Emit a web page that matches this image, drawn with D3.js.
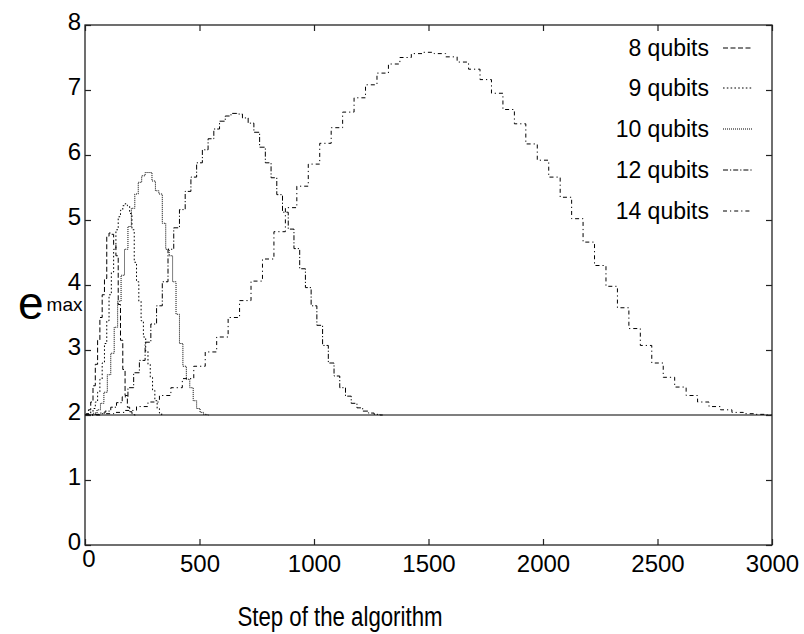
<!DOCTYPE html>
<html>
<head>
<meta charset="utf-8">
<script src="https://cdn.jsdelivr.net/npm/d3@7"></script>
<style>
  html, body { margin: 0; padding: 0; background: #fff; }
  svg { display: block; }
  text { font-family: "Liberation Sans", Arial, Helvetica, sans-serif; fill: #000; }
</style>
</head>
<body>
<svg id="chart" width="804" height="634"></svg>
<script>
// ---------------- data ----------------
const xTicks = [0, 500, 1000, 1500, 2000, 2500, 3000];
const yTicks = [0, 1, 2, 3, 4, 5, 6, 7, 8];
const seriesNames = ["8 qubits", "9 qubits", "10 qubits", "12 qubits", "14 qubits"];
const baseValue = 2;

const steps8 = [0,10,20,30,40,50,60,70,80,90,100,110,120,130,140,150,160,170,180,190,200,210,220];
const emax8  = [2.00,2.02,2.08,2.20,2.45,2.78,3.15,3.50,3.85,4.10,4.75,4.80,4.78,4.62,4.45,3.70,3.15,2.70,2.30,2.12,2.05,2.02,2.00];

const steps9 = [0,10,20,30,40,50,60,70,80,90,100,110,120,130,140,150,160,170,180,190,200,210,220,230,240,250,260,270,280,290,300,310,320,330,340];
const emax9  = [2.00,2.00,2.02,2.05,2.10,2.20,2.35,2.55,2.80,3.10,3.45,3.85,4.20,4.55,4.85,5.05,5.15,5.22,5.25,5.22,5.10,4.85,4.35,4.05,3.75,3.45,3.20,2.98,2.78,2.58,2.38,2.22,2.10,2.03,2.00];

const steps10 = [0,15,30,45,60,75,90,105,120,135,150,165,180,195,210,225,240,255,270,285,300,315,330,345,360,375,390,405,420,435,450,465,480,495,510,525,540];
const emax10  = [2.00,2.00,2.01,2.03,2.08,2.18,2.35,2.62,2.95,3.35,3.75,4.15,4.55,4.90,5.18,5.40,5.58,5.68,5.73,5.73,5.60,5.45,5.40,4.95,4.55,4.45,4.05,3.55,3.10,2.75,2.55,2.42,2.22,2.10,2.04,2.01,2.00];

const steps12 = [0,25,50,75,100,125,150,175,200,225,250,275,300,325,350,375,400,425,450,475,500,525,550,575,600,625,650,675,700,725,750,775,800,825,850,875,900,925,950,975,1000,1025,1050,1075,1100,1125,1150,1175,1200,1225,1250,1275,1300];
const emax12  = [2.00,2.00,2.01,2.03,2.06,2.12,2.19,2.28,2.42,2.65,2.84,3.12,3.40,3.68,4.05,4.55,4.88,5.16,5.44,5.66,5.88,6.08,6.25,6.40,6.52,6.60,6.64,6.63,6.57,6.49,6.35,6.12,5.88,5.65,5.39,5.12,4.86,4.56,4.25,3.96,3.68,3.38,3.07,2.80,2.60,2.42,2.29,2.18,2.11,2.06,2.03,2.01,2.00];

const steps14 = [0,50,100,150,200,250,300,350,400,450,500,550,600,650,700,750,800,850,900,950,1000,1050,1100,1150,1200,1250,1300,1350,1400,1450,1500,1550,1600,1650,1700,1750,1800,1850,1900,1950,2000,2050,2100,2150,2200,2250,2300,2350,2400,2450,2500,2550,2600,2650,2700,2750,2800,2850,2900,2950,3000];
const emax14  = [2.00,2.00,2.02,2.04,2.07,2.13,2.20,2.30,2.42,2.56,2.75,2.97,3.20,3.50,3.76,4.06,4.40,4.82,5.19,5.52,5.86,6.18,6.42,6.66,6.88,7.08,7.26,7.40,7.50,7.56,7.58,7.56,7.51,7.43,7.32,7.16,6.95,6.70,6.48,6.17,5.92,5.66,5.35,5.02,4.66,4.30,3.98,3.65,3.33,3.07,2.80,2.58,2.43,2.30,2.20,2.13,2.08,2.04,2.02,2.01,2.00];

// ---------------- styling ----------------
const dashes = ["5,2.5", "1.6,2.2", "1,1", "5,2,1.2,2", "4,3,1.2,3"];

const svg = d3.select("#chart");
const mLeft = 85, mRight = 772, mTop = 25, mBottom = 545;

const x = d3.scaleLinear().domain([0, 3000]).range([mLeft, mRight]);
const y = d3.scaleLinear().domain([0, 8]).range([mBottom, mTop]);

const series = [
  {name: seriesNames[0], xs: steps8,  ys: emax8},
  {name: seriesNames[1], xs: steps9,  ys: emax9},
  {name: seriesNames[2], xs: steps10, ys: emax10},
  {name: seriesNames[3], xs: steps12, ys: emax12},
  {name: seriesNames[4], xs: steps14, ys: emax14}
];

// baseline at emax = 2
svg.append("line")
  .attr("x1", x(0)).attr("x2", x(3000))
  .attr("y1", y(baseValue)).attr("y2", y(baseValue))
  .attr("stroke", "#000").attr("stroke-width", 1.2);

const line = d3.line()
  .x(d => x(d[0])).y(d => y(d[1]))
  .curve(d3.curveStep);

series.forEach((s, i) => {
  const pts = s.xs.map((v, k) => [v, s.ys[k]]);
  svg.append("path")
    .attr("d", line(pts))
    .attr("fill", "none")
    .attr("stroke", "#000")
    .attr("stroke-width", 1)
    .attr("stroke-dasharray", dashes[i]);
});

// frame
svg.append("rect")
  .attr("x", mLeft).attr("y", mTop)
  .attr("width", mRight - mLeft).attr("height", mBottom - mTop)
  .attr("fill", "none").attr("stroke", "#222").attr("stroke-width", 1.3);

// axes with inward ticks
const fs = 24;
const gx = svg.append("g").attr("transform", `translate(0,${mBottom})`)
  .call(d3.axisBottom(x).tickValues(xTicks).tickSizeInner(-6).tickSizeOuter(0).tickPadding(10).tickFormat(d3.format("d")));
const gxTop = svg.append("g").attr("transform", `translate(0,${mTop})`)
  .call(d3.axisTop(x).tickValues(xTicks).tickSizeInner(-6).tickSizeOuter(0).tickFormat(""));
const gy = svg.append("g").attr("transform", `translate(${mLeft},0)`)
  .call(d3.axisLeft(y).tickValues(yTicks).tickSizeInner(-6).tickSizeOuter(0).tickPadding(4).tickFormat(d3.format("d")));
const gyR = svg.append("g").attr("transform", `translate(${mRight},0)`)
  .call(d3.axisRight(y).tickValues(yTicks).tickSizeInner(-6).tickSizeOuter(0).tickFormat(""));

[gx, gxTop, gy, gyR].forEach(g => {
  g.select(".domain").remove();
  g.selectAll(".tick line").attr("stroke", "#222").attr("stroke-width", 1.2);
  g.selectAll("text").style("font-size", fs + "px")
    .style("font-family", '"Liberation Sans", Arial, Helvetica, sans-serif').attr("fill", "#000");
});
gy.selectAll(".tick text").attr("dy", "0.2em");
gx.selectAll(".tick").filter(d => d === 0).select("text")
  .attr("dx", 3.5).attr("dy", "0.5em");

// axis titles
svg.append("text")
  .attr("x", 340).attr("y", 626)
  .attr("text-anchor", "middle")
  .attr("textLength", 205)
  .attr("lengthAdjust", "spacingAndGlyphs")
  .style("font-size", "27px")
  .text("Step of  the algorithm");

const ylab = svg.append("text")
  .attr("x", 18).attr("y", 319);
ylab.append("tspan").style("font-size", "46px").text("e");
ylab.append("tspan").attr("dx", 3).attr("dy", -8).style("font-size", "19px").text("max");

// legend
const legRowY = [48, 88, 129, 170, 211];
series.forEach((s, i) => {
  const ly = legRowY[i];
  svg.append("text")
    .attr("x", 709).attr("y", ly)
    .attr("dy", "0.35em")
    .attr("text-anchor", "end")
    .style("font-size", "23px")
    .text(s.name);
  svg.append("line")
    .attr("x1", 723).attr("x2", 752)
    .attr("y1", ly).attr("y2", ly)
    .attr("stroke", "#000").attr("stroke-width", 1)
    .attr("stroke-dasharray", dashes[i]);
});
</script>
</body>
</html>
